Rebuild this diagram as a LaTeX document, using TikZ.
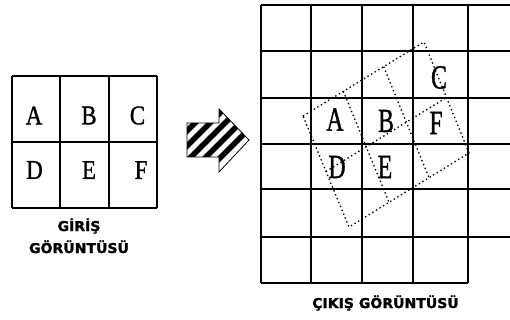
\documentclass[tikz,border=0pt]{standalone}
\usepackage{fontspec}
\setmainfont{Liberation Serif}
\newfontfamily\letfont[FakeBold=1.2]{Liberation Serif}
\newfontfamily\capfont[FakeBold=1.5]{DejaVu Sans Bold}
\usetikzlibrary{calc}
\tikzset{
  gridline/.style={line width=1.3pt},
  rotgrid/.style={line width=1.3pt, dash pattern=on 1.4pt off 2.8pt},
  letterL/.style={inner sep=0pt, font=\letfont\fontsize{27}{27}\selectfont},
  captext/.style={inner sep=0pt, anchor=base, font=\capfont\fontsize{13.5}{13.5}\selectfont},
  stripe/.style={line width=5.5pt},
}
\newcommand{\lL}[1]{\scalebox{0.85}[1]{#1}}
\newcommand{\lR}[1]{\scalebox{0.88}[1.25]{#1}}
\newcommand{\cw}[1]{\scalebox{1.04}[1]{#1}}
\begin{document}
\begin{tikzpicture}[x=1pt,y=-1pt]
\useasboundingbox (0,0) rectangle (510,320);
\fill[white] (0,0) rectangle (510,320);

% ---- input grid ----
\foreach \x in {12,60,109,157} \draw[gridline] (\x,76) -- (\x,208);
\foreach \y in {76,142,208} \draw[gridline] (12,\y) -- (157,\y);
\node[letterL] (la) at (34,115.5) {\lL{A}};
\node[letterL] (lb) at (89,115.5) {\lL{B}};
\node[letterL] (lc) at (137.5,115.5) {\lL{C}};
\node[letterL] (ld) at (34.5,170) {\lL{D}};
\node[letterL] (le) at (89,170) {\lL{E}};
\node[letterL] (lf) at (141,170) {\lL{F}};
\node[captext] (c1) at (79,231) {\cw{GİRİŞ}};
\node[captext] (c2) at (79,253) {\cw{GÖRÜNTÜSÜ}};

% ---- hatched arrow ----
\begin{scope}
\clip (187,123) -- (219,123) -- (219,109) -- (249,140) -- (219,172) -- (219,157) -- (187,157) -- cycle;
\foreach \c in {318,333,348,363,378} \draw[stripe] (\c-100,100) -- (\c-200,200) (\c-100,100) -- (\c,0);
\end{scope}
\draw[line width=0.8pt] (187,123) -- (219,123) -- (219,109) -- (249,140) -- (219,172) -- (219,157) -- (187,157) -- cycle;

% ---- output grid ----
\foreach \y in {5,51,98,144,189,237} \draw[gridline] (261,\y) -- (510,\y);
\draw[gridline] (261,283) -- (468,283);
\foreach \x in {261,311,362,413,468} \draw[gridline] (\x,5) -- (\x,283);

% ---- rotated dotted grid ----
\coordinate (L) at (303,116);
\coordinate (T) at (424,42);
\coordinate (R) at (469,153);
\coordinate (B) at (349,227);
\draw[rotgrid] (L) -- (T) -- (R) -- (B) -- cycle;
\draw[rotgrid] ($(L)!1/3!(T)$) -- ($(B)!1/3!(R)$);
\draw[rotgrid] ($(L)!2/3!(T)$) -- ($(B)!2/3!(R)$);
\draw[rotgrid] ($(L)!0.5!(B)$) -- ($(T)!0.5!(R)$);

\node[letterL] (ra) at (335,119.5) {\lR{A}};
\node[letterL] (rb) at (386,121) {\lR{B}};
\node[letterL] (rc) at (439,77.5) {\lR{C}};
\node[letterL] (rd) at (337,167) {\lR{D}};
\node[letterL] (re) at (385,167) {\lR{E}};
\node[letterL] (rf) at (436,123) {\lR{F}};
\node[captext] (c3) at (385.5,308) {\cw{ÇIKIŞ GÖRÜNTÜSÜ}};
\end{tikzpicture}
\end{document}
